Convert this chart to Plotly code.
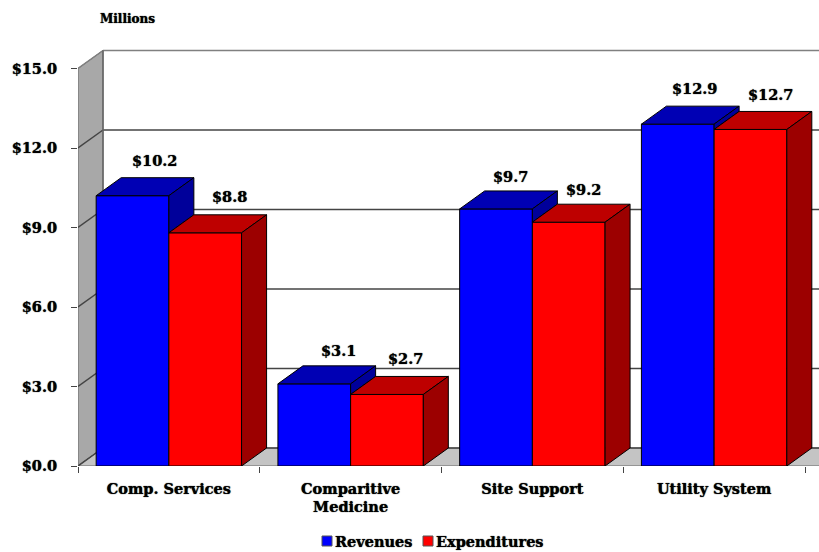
import plotly.graph_objects as go

categories = ["Comp. Services", "Comparitive<br>Medicine", "Site Support", "Utility System"]
revenues = [10.2, 3.1, 9.7, 12.9]
expenditures = [8.8, 2.7, 9.2, 12.7]
y_ticks = [0, 3, 6, 9, 12, 15]
y_tick_labels = ["$0.0", "$3.0", "$6.0", "$9.0", "$12.0", "$15.0"]

# style / geometry constants
W, H = 819, 552
L, B, T = 78, 86, 40
CAT_PX = 181.75
VAL_PX = 26.5
BAR_W = 0.4
DX = 25 / CAT_PX      # depth in category units
DY = 18 / VAL_PX      # depth in value units
X_MAX = (W - L) / CAT_PX
Y_MAX = (H - B - T) / VAL_PX
FONT = "DejaVu Serif"
SHADOW = "0 0 1px #000"
BLUE, BLUE_TOP, BLUE_SIDE = "#0000FF", "#0000B4", "#00009A"
RED, RED_TOP, RED_SIDE = "#FF0000", "#BE0000", "#9C0000"
rev_label_shift = [(22, 35), (24, 33), (14, 32), (17, 36)]
exp_label_shift = [(24, 36), (19, 36), (15, 33), (20, 35)]


def px(x):
    return (x - L) / (W - L)


def py(y):
    return (H - B - y) / (H - B - T)


fig = go.Figure()
centers = [i + 0.5 for i in range(len(categories))]


def poly(xs, ys, fill):
    fig.add_trace(go.Scatter(
        x=xs + xs[:1], y=ys + ys[:1], mode="lines", fill="toself", fillcolor=fill,
        line=dict(color="#000000", width=1), hoverinfo="skip", showlegend=False))


shapes = []


def wall_poly(xs, ys, fill):
    path = "M " + " L ".join(f"{x},{y}" for x, y in zip(xs, ys)) + " Z"
    shapes.append(dict(type="path", path=path, xref="x", yref="y", layer="below",
                       fillcolor=fill, line=dict(color="#666666", width=1)))


def wall_line(x0, y0, x1, y1, color="#444444", width=1.5):
    shapes.append(dict(type="line", x0=x0, y0=y0, x1=x1, y1=y1, xref="x", yref="y",
                       layer="below", line=dict(color=color, width=width)))


# left wall and floor
wall_poly([0, DX, DX, 0], [0, DY, 15 + DY, 15], "#A8A8A8")
wall_poly([0, DX, X_MAX + 1, X_MAX + 1], [0, DY, DY, 0], "#C4C4C4")
for v in y_ticks:
    color = "#808080" if v == 15 else "#444444"
    wall_line(DX, v + DY, X_MAX + 1, v + DY, color)
    wall_line(0, v, DX, v + DY, color)
wall_line(DX, DY, DX, 15 + DY, "#666666")

# front faces
fig.add_trace(go.Bar(x=centers, y=revenues, width=BAR_W, offset=-BAR_W, name="Revenues",
                     marker=dict(color=BLUE, line=dict(color="#000000", width=1))))
fig.add_trace(go.Bar(x=centers, y=expenditures, width=BAR_W, offset=0, name="Expenditures",
                     marker=dict(color=RED, line=dict(color="#000000", width=1))))

# depth faces, computed from the values
for c, r, e in zip(centers, revenues, expenditures):
    xa, xb, xc = c - BAR_W, c, c + BAR_W
    poly([xa, xb, xb + DX, xa + DX], [r, r, r + DY, r + DY], BLUE_TOP)
    poly([xb, xb + DX, xb + DX, xb], [r, r + DY, e + DY, e], BLUE_SIDE)
    poly([xb, xc, xc + DX, xb + DX], [e, e, e + DY, e + DY], RED_TOP)
    poly([xc, xc + DX, xc + DX, xc], [e, e + DY, DY, 0], RED_SIDE)

annotations = []
for c, r, e, rs, es in zip(centers, revenues, expenditures, rev_label_shift, exp_label_shift):
    for xc, v, s in ((c - BAR_W / 2, r, rs), (c + BAR_W / 2, e, es)):
        annotations.append(dict(x=xc, y=v, xref="x", yref="y", text=f"${v:.1f}", showarrow=False,
                                xshift=s[0], yshift=s[1], yanchor="middle",
                                font=dict(family=FONT, size=14.5, color="#000000", weight="bold", shadow=SHADOW)))

annotations.append(dict(x=px(98), y=py(19), xref="paper", yref="paper", xanchor="left", yanchor="middle",
                        text="Millions", showarrow=False,
                        font=dict(family=FONT, size=12, color="#000000", weight="bold", shadow=SHADOW)))

for name, color, sx, tx in (("Revenues", BLUE, 322, 333), ("Expenditures", RED, 423, 434)):
    shapes.append(dict(type="rect", xref="paper", yref="paper", x0=px(sx), x1=px(sx + 10),
                       y0=py(546), y1=py(536), fillcolor=color, line=dict(color="#555555", width=1)))
    annotations.append(dict(x=px(tx), y=py(541), xref="paper", yref="paper", xanchor="left", yanchor="middle",
                            text=name, showarrow=False,
                            font=dict(family=FONT, size=14.5, color="#000000", weight="bold", shadow=SHADOW)))

axis_font = dict(family=FONT, size=14.5, color="#000000", weight="bold", shadow=SHADOW)
fig.update_layout(
    width=W, height=H, margin=dict(l=L, r=0, t=T, b=B), autosize=False,
    paper_bgcolor="#FFFFFF", plot_bgcolor="#FFFFFF", showlegend=False, barmode="overlay",
    shapes=shapes, annotations=annotations,
    xaxis=dict(range=[0, X_MAX], tickmode="array", tickvals=centers, ticktext=categories,
               ticks="", tickfont=axis_font, ticklabelstandoff=12, showgrid=False, zeroline=False,
               showline=False,
               minor=dict(tickmode="array", tickvals=list(range(len(categories) + 1)), ticks="outside",
                          ticklen=6, tickcolor="#444444", tickwidth=1, showgrid=False)),
    yaxis=dict(range=[0, Y_MAX], tickmode="array", tickvals=y_ticks, ticktext=y_tick_labels,
               ticks="outside", ticklen=6, tickcolor="#444444", tickfont=axis_font, ticklabelstandoff=11,
               showgrid=False, zeroline=False, showline=False),
)

fig.write_html("out.html", post_script="document.body.style.margin='0';",
               config=dict(displayModeBar=False))
